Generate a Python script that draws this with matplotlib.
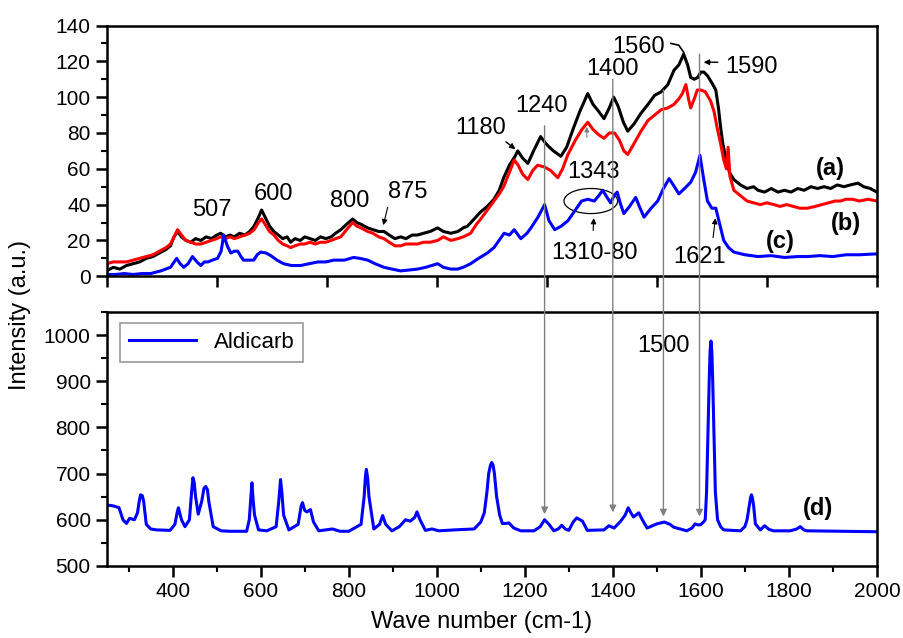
import matplotlib
matplotlib.use("Agg")
import matplotlib.pyplot as plt
from matplotlib.patches import Ellipse, ConnectionPatch
from matplotlib.ticker import MultipleLocator

plt.rcParams['font.family'] = ['Liberation Sans', 'DejaVu Sans']

# spectrum (a)
xa = [250, 265, 280, 295, 310, 325, 340, 355, 370, 385, 395, 403, 411, 420, 430, 441, 452, 464, 476, 488,
      500, 509, 520, 530, 540, 552, 564, 575, 585, 595, 602, 610, 620, 630, 640, 650, 660, 668, 678, 690,
      700, 712, 724, 736, 748, 760, 770, 782, 795, 809, 818, 828, 843, 855, 868, 880, 892, 905, 918, 930,
      944, 956, 970, 985, 1002, 1015, 1032, 1048, 1060, 1070, 1085, 1100, 1115, 1130, 1142, 1152, 1165, 1178, 1184, 1195,
      1207, 1220, 1236, 1245, 1252, 1265, 1282, 1295, 1311, 1325, 1343, 1355, 1368, 1380, 1392, 1402, 1412, 1424, 1434, 1448,
      1464, 1480, 1495, 1510, 1525, 1539, 1550, 1561, 1570, 1577, 1585, 1593, 1600, 1607, 1615, 1625, 1634, 1640, 1645, 1650,
      1657, 1665, 1675, 1690, 1705, 1720, 1730, 1745, 1760, 1775, 1790, 1805, 1820, 1835, 1850, 1865, 1880, 1895, 1910, 1925,
      1940, 1957, 1970, 1985, 2000]
ya = [3, 5, 4, 6, 7, 8, 10, 11, 13, 15, 17, 22, 25, 22, 20, 19, 21, 20, 22, 21,
      23, 24, 22, 23, 22, 24, 23, 25, 28, 33, 37, 33, 28, 25, 23, 21, 22, 19, 21, 20,
      22, 21, 20, 22, 21, 22, 24, 26, 29, 32, 30, 29, 27, 26, 25, 25, 23, 21, 22, 21,
      23, 23, 24, 25, 27, 25, 24, 25, 27, 28, 32, 36, 39, 43, 48, 55, 62, 67, 70, 66,
      63, 70, 78, 75, 73, 70, 67, 72, 83, 92, 102, 96, 92, 88, 94, 100, 95, 86, 81, 85,
      91, 96, 101, 103, 107, 115, 118, 124, 118, 111, 110, 111, 114, 114, 112, 108, 104, 94, 83, 74,
      66, 58, 54, 51, 49, 50, 48, 47, 49, 47, 48, 47, 49, 48, 50, 49, 50, 49, 51, 50,
      51, 52, 50, 49, 47]

# spectrum (b)
xb = [250, 265, 280, 295, 310, 325, 340, 355, 370, 385, 395, 403, 411, 420, 430, 441, 452, 464, 476, 488,
      500, 509, 520, 530, 540, 552, 564, 575, 585, 595, 602, 610, 620, 630, 640, 650, 660, 668, 678, 690,
      700, 712, 724, 736, 748, 760, 770, 782, 795, 809, 818, 828, 843, 855, 868, 880, 892, 905, 918, 930,
      944, 956, 970, 985, 1002, 1015, 1032, 1048, 1060, 1077, 1090, 1100, 1115, 1130, 1142, 1152, 1165, 1176, 1185, 1195,
      1207, 1218, 1229, 1245, 1259, 1275, 1286, 1298, 1315, 1330, 1343, 1355, 1368, 1380, 1392, 1404, 1415, 1425, 1434, 1448,
      1464, 1480, 1495, 1510, 1525, 1539, 1550, 1558, 1566, 1572, 1577, 1585, 1592, 1600, 1610, 1622, 1630, 1637, 1645, 1652,
      1658, 1662, 1666, 1675, 1690, 1705, 1720, 1735, 1750, 1766, 1780, 1795, 1810, 1825, 1842, 1860, 1875, 1890, 1905, 1917,
      1930, 1945, 1960, 1980, 2000]
yb = [7, 8, 8, 8, 9, 10, 11, 12, 14, 16, 18, 22, 26, 23, 20, 19, 18, 18, 19, 20,
      21, 22, 21, 22, 21, 22, 23, 24, 26, 30, 32, 29, 25, 23, 20, 18, 17, 16, 17, 18,
      18, 19, 18, 19, 19, 20, 21, 22, 26, 30, 28, 27, 25, 24, 22, 21, 19, 17, 17, 18,
      18, 18, 19, 19, 20, 22, 20, 21, 22, 24, 29, 32, 37, 42, 46, 50, 58, 65, 62, 57,
      54, 59, 62, 61, 59, 55, 60, 68, 76, 82, 86, 82, 79, 77, 80, 80, 76, 70, 68, 74,
      81, 87, 90, 93, 94, 96, 99, 102, 107, 99, 94, 99, 104, 104, 103, 98, 92, 83, 74, 65,
      60, 72, 56, 48, 45, 42, 41, 40, 41, 40, 39, 40, 39, 38, 38, 39, 40, 41, 42, 42,
      43, 43, 42, 43, 42]

# spectrum (c)
xc = [250, 270, 290, 310, 330, 350, 373, 395, 409, 417, 425, 435, 445, 455, 464, 472, 480, 490, 502, 510,
      516, 524, 532, 540, 548, 555, 561, 572, 584, 592, 600, 612, 623, 637, 652, 670, 691, 710, 730, 748,
      766, 790, 811, 825, 843, 860, 880, 898, 918, 938, 956, 975, 1002, 1015, 1032, 1047, 1060, 1077, 1095, 1115,
      1130, 1153, 1165, 1176, 1191, 1205, 1214, 1230, 1245, 1255, 1268, 1283, 1298, 1315, 1329, 1343, 1358, 1368, 1377, 1387,
      1395, 1403, 1410, 1418, 1425, 1438, 1452, 1462, 1471, 1487, 1502, 1515, 1528, 1540, 1550, 1563, 1577, 1588, 1598, 1606,
      1615, 1625, 1634, 1643, 1652, 1663, 1675, 1700, 1730, 1760, 1790, 1820, 1842, 1870, 1900, 1930, 1960, 2000]
yc = [1, 1, 1.5, 1, 1.5, 1.5, 3, 5, 10, 7, 5, 7, 11, 8, 6, 8, 8, 9, 10, 14,
      23, 17, 13, 14, 14, 11, 9, 9, 9, 12, 13.5, 13, 11.5, 9, 7, 6, 6, 7, 8, 8,
      9, 9, 10.5, 10, 9, 7, 5, 4, 3, 3.5, 4, 5, 7, 5, 4, 4, 5, 7, 10, 13,
      16, 24, 23, 26, 21, 24, 27, 33, 40, 31, 26, 28, 31, 37, 42, 43, 42, 45, 48, 44,
      41, 45, 47, 40, 35, 39, 44, 38, 33, 38, 42, 49, 54.5, 50, 46, 49, 52.5, 58, 67.5, 55,
      42, 38, 38, 29, 20, 16, 13.5, 12, 11, 11.5, 10.5, 11, 11, 11.5, 11, 12, 12, 12.5]

# spectrum (d) Aldicarb
xd = [250, 265, 278, 287, 295, 302, 313, 320, 324, 327, 331, 334, 340, 350, 363, 394, 405, 410, 413, 416, 420, 428, 438, 443, 446,
      449, 452, 458, 466, 471, 475, 479, 482, 492, 510, 530, 568, 574, 577, 580, 583, 586, 595, 614, 635, 641, 645, 648, 652, 664, 685, 692, 695,
      700, 705, 713, 720, 732, 763, 780, 800, 828, 835, 838, 840, 843, 846, 857, 870, 877, 884, 898, 915, 929, 940,
      950, 955, 962, 974, 989, 1005, 1040, 1085, 1100, 1108, 1114, 1118, 1122, 1125, 1128, 1131, 1136, 1143, 1149, 1157, 1164, 1175, 1191,
      1221, 1235, 1245, 1255, 1266, 1276, 1284, 1292, 1300, 1310, 1318, 1331, 1342, 1380, 1391, 1403, 1418, 1428, 1435, 1441,
      1447, 1459, 1467, 1478, 1490, 1500, 1517, 1530, 1538, 1568, 1580, 1587, 1593, 1599, 1606, 1610, 1613, 1616, 1619, 1621, 1623,
      1625, 1627, 1630, 1633, 1638, 1645, 1652, 1690, 1700, 1705, 1710, 1713, 1715, 1717, 1720, 1724, 1735, 1745, 1755, 1765, 1803, 1818, 1826,
      1834, 1841, 1917, 2000]
yd = [632, 630, 626, 600, 592, 603, 600, 615, 640, 654, 652, 640, 590, 580, 578, 577, 590, 615, 626, 615, 600, 585, 600, 660, 691,
      680, 650, 612, 640, 668, 672, 665, 640, 585, 576, 575, 575, 600, 640, 680, 640, 610, 578, 576, 585, 640, 687, 660, 610, 578, 590, 630, 637,
      620, 617, 622, 595, 576, 580, 575, 575, 590, 650, 695, 709, 690, 650, 580, 590, 609, 590, 576, 585, 600, 597,
      605, 617, 600, 577, 580, 576, 578, 580, 595, 615, 660, 700, 718, 724, 718, 700, 650, 610, 592, 592, 593, 582, 576,
      576, 585, 600, 590, 576, 580, 588, 580, 577, 595, 604, 597, 577, 578, 587, 582, 597, 610, 626, 615,
      606, 615, 600, 582, 587, 591, 595, 590, 584, 576, 582, 591, 589, 589, 595, 600, 660, 780, 900, 965, 987,
      965, 900, 780, 660, 600, 585, 578, 576, 585, 600, 630, 648, 654, 648, 630, 591, 578, 587, 579, 576, 576, 580, 585,
      578, 576, 575, 574]

# peak links between the panels: x, start in top panel, end in bottom panel
link_x = [1245, 1400, 1515, 1597]
link_top = [84, 110, 104, 124]
link_bot = [612, 616, 607, 607]

fig = plt.figure(figsize=(9.04, 6.38), dpi=100)
ax1 = fig.add_axes([0.118, 0.567, 0.852, 0.393])
ax2 = fig.add_axes([0.118, 0.113, 0.852, 0.398])

ax1.plot(xa, ya, color='black', lw=2.2)
ax1.plot(xb, yb, color='red', lw=2.2)
ax1.plot(xc, yc, color='blue', lw=2.2)
ax2.plot(xd, yd, color='blue', lw=2.2, label='Aldicarb')

for ax in (ax1, ax2):
    for s in ax.spines.values():
        s.set_linewidth(1.8)
    ax.set_xlim(250, 2000)
    ax.tick_params(which='major', direction='out', length=8, width=1.8, labelsize=15, top=False, right=False)
    ax.tick_params(which='minor', direction='out', length=4, width=1.5, top=False, right=False)

ax1.set_ylim(0, 140)
ax1.xaxis.set_major_locator(MultipleLocator(250))
ax1.yaxis.set_major_locator(MultipleLocator(20))
ax1.yaxis.set_minor_locator(MultipleLocator(10))
ax1.tick_params(axis='x', labelbottom=False)

ax2.set_ylim(500, 1050)
ax2.set_xticks(range(400, 2001, 200))
ax2.xaxis.set_minor_locator(MultipleLocator(100))
ax2.yaxis.set_major_locator(MultipleLocator(100))
ax2.yaxis.set_minor_locator(MultipleLocator(50))

fs = 17
ax1.text(488, 37, "507", fontsize=fs, ha='center', va='center')
ax1.text(628, 46, "600", fontsize=fs, ha='center', va='center')
ax1.text(803, 42, "800", fontsize=fs, ha='center', va='center')
ax1.text(935, 47, "875", fontsize=fs, ha='center', va='center')
ax1.annotate("", xy=(877, 27), xytext=(890, 40),
             arrowprops=dict(arrowstyle='-|>', color='black', lw=0.8, mutation_scale=8))
ax1.text(1099, 83, "1180", fontsize=fs, ha='center', va='center')
ax1.annotate("", xy=(1184, 70), xytext=(1152, 76),
             arrowprops=dict(arrowstyle='-|>', color='black', lw=1, mutation_scale=8))
ax1.text(1237, 95, "1240", fontsize=fs, ha='center', va='center')
ax1.text(1400, 116, "1400", fontsize=fs, ha='center', va='center')
ax1.text(1458, 128, "1560", fontsize=fs, ha='center', va='center')
ax1.plot([1532, 1550, 1561], [130, 129, 125], color='black', lw=1.2)
ax1.text(1716, 117, "1590", fontsize=fs, ha='center', va='center')
ax1.annotate("", xy=(1600, 119.5), xytext=(1645, 119.5),
             arrowprops=dict(arrowstyle='-|>', color='black', lw=1, mutation_scale=8))
ax1.text(1356, 58, "1343", fontsize=fs, ha='center', va='center')
ax1.annotate("", xy=(1341, 85), xytext=(1341, 76),
             arrowprops=dict(arrowstyle='-|>', color='gray', lw=0.8, mutation_scale=7))
ax1.add_patch(Ellipse((1350, 42), 122, 14, fill=False, ec='black', lw=0.9))
ax1.text(1358, 13, "1310-80", fontsize=fs, ha='center', va='center')
ax1.annotate("", xy=(1357, 34), xytext=(1355, 24),
             arrowprops=dict(arrowstyle='-|>', color='black', lw=0.8, mutation_scale=8))
ax1.text(1598, 11, "1621", fontsize=fs, ha='center', va='center')
ax1.annotate("", xy=(1634, 34), xytext=(1627, 20),
             arrowprops=dict(arrowstyle='-|>', color='black', lw=0.8, mutation_scale=8))
ax1.text(1895, 60, "(a)", fontsize=fs, ha='center', va='center', fontweight='bold')
ax1.text(1930, 29.5, "(b)", fontsize=fs, ha='center', va='center', fontweight='bold')
ax1.text(1780, 19.5, "(c)", fontsize=fs, ha='center', va='center', fontweight='bold')

ax2.text(1515, 976, "1500", fontsize=fs, ha='center', va='center')
ax2.text(1867, 624, "(d)", fontsize=fs, ha='center', va='center', fontweight='bold')

for x, t, b in zip(link_x, link_top, link_bot):
    con = ConnectionPatch(xyA=(x, t), coordsA=ax1.transData, xyB=(x, b), coordsB=ax2.transData,
                          arrowstyle='-|>', color='gray', lw=1, mutation_scale=10, zorder=5)
    fig.add_artist(con)

leg = ax2.legend(loc='upper left', fontsize=16, handlelength=3, fancybox=False,
                 edgecolor='gray', bbox_to_anchor=(0.012, 0.975), borderaxespad=0.2)
leg.get_frame().set_linewidth(1.2)

fig.text(0.022, 0.506, "Intensity (a.u.)", rotation=90, fontsize=17, ha='center', va='center')
fig.text(0.533, 0.025, "Wave number (cm-1)", fontsize=17, ha='center', va='center')

plt.savefig("out.png", dpi=100)
